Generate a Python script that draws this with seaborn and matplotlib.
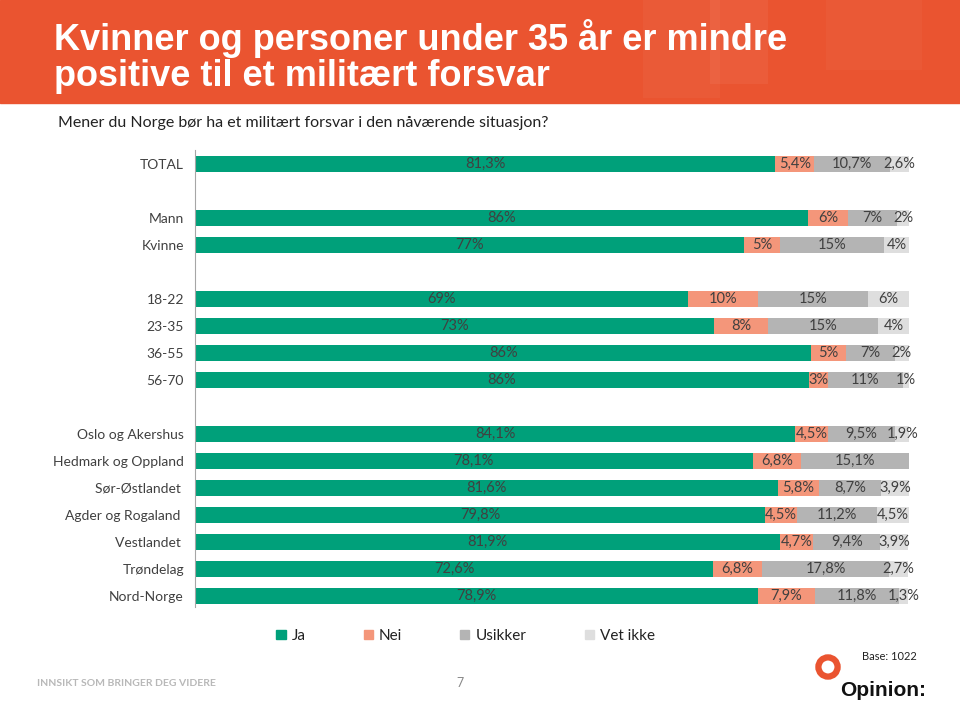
import matplotlib
matplotlib.use("Agg")
import matplotlib.pyplot as plt
from matplotlib.patches import Rectangle, Patch, Circle
import pandas as pd
import seaborn as sns

# data (percent)
groups = ["TOTAL", "", "Mann", "Kvinne", "", "18-22", "23-35", "36-55", "56-70", "",
          "Oslo og Akershus", "Hedmark og Oppland", "Sør-Østlandet ", "Agder og Rogaland ",
          "Vestlandet ", "Trøndelag", "Nord-Norge"]
ja = [81.3, None, 85.9, 76.9, None, 69.0, 72.7, 86.3, 86.0, None,
      84.1, 78.1, 81.6, 79.8, 81.9, 72.6, 78.9]
nei = [5.4, None, 5.6, 5.0, None, 9.9, 7.6, 4.9, 2.6, None,
       4.5, 6.8, 5.8, 4.5, 4.7, 6.8, 7.9]
usikker = [10.7, None, 6.8, 14.6, None, 15.4, 15.4, 6.8, 10.6, None,
           9.5, 15.1, 8.7, 11.2, 9.4, 17.8, 11.8]
vet_ikke = [2.6, None, 1.7, 3.5, None, 5.7, 4.3, 2.0, 0.8, None,
            1.9, 0.0, 3.9, 4.5, 3.9, 2.7, 1.3]
decimals = [1, None, 0, 0, None, 0, 0, 0, 0, None, 1, 1, 1, 1, 1, 1, 1]

series = ["Ja", "Nei", "Usikker", "Vet ikke"]
colors = ["#00A07A", "#F4967A", "#B4B4B4", "#DEDEDE"]
txt_col = "#404040"
orange = "#EA5430"

# unique keys so the blank spacer rows stay separate categories
keys = [g if g else " " * (i + 1) for i, g in enumerate(groups)]
df = pd.DataFrame({"key": keys, "Ja": ja, "Nei": nei, "Usikker": usikker, "Vet ikke": vet_ikke})
df = df.dropna().reset_index(drop=True)
df["c1"] = df["Ja"]
df["c2"] = df["c1"] + df["Nei"]
df["c3"] = df["c2"] + df["Usikker"]
df["c4"] = df["c3"] + df["Vet ikke"]

body = ["Lato", "DejaVu Sans"]
plt.rcParams["font.family"] = body
head = ["Liberation Sans", "DejaVu Sans"]

fig = plt.figure(figsize=(9.6, 7.02), dpi=100)

# header band
fig.patches.append(Rectangle((0, 1 - 103 / 702), 1, 103 / 702, transform=fig.transFigure,
                             color=orange, zorder=0))
for x0, y0, w, h, a in [(0.67, 0.86, 0.08, 0.14, 0.035), (0.74, 0.88, 0.06, 0.12, 0.05),
                        (0.86, 0.9, 0.1, 0.1, 0.03)]:
    fig.patches.append(Rectangle((x0, y0), w, h, transform=fig.transFigure,
                                 color="white", alpha=a, zorder=0, lw=0))
fig.text(54 / 960, 1 - 38 / 702, "Kvinner og personer under 35 år er mindre",
         color="white", fontsize=26, fontweight="bold", family=head, va="center")
fig.text(54 / 960, 1 - 76 / 702, "positive til et militært forsvar",
         color="white", fontsize=26, fontweight="bold", family=head, va="center")
fig.text(58 / 960, 1 - 123 / 702, "Mener du Norge bør ha et militært forsvar i den nåværende situasjon?",
         fontsize=11.5, color="#222222", va="center")

ax = fig.add_axes([195 / 960, 1 - 607 / 702, 714 / 960, 457 / 702])
for col, c in zip(["c4", "c3", "c2", "c1"], colors[::-1]):
    sns.barplot(data=df, x=col, y="key", order=keys, color=c, saturation=1,
                width=0.6, errorbar=None, orient="h", ax=ax)

ax.set_xlim(0, 100)
ax.set_ylim(len(keys) - 1 + 0.41, -0.52)
ax.set_xlabel("")
ax.set_ylabel("")
ax.set_xticks([])
ax.set_yticks(range(len(keys)))
ax.set_yticklabels(groups, fontsize=10, color=txt_col)
ax.tick_params(axis="y", length=0, pad=8)
for s in ["top", "right", "bottom"]:
    ax.spines[s].set_visible(False)
ax.spines["left"].set_color("#A6A6A6")

# segment labels
for i, k in enumerate(keys):
    row = df[df["key"] == k]
    if row.empty:
        continue
    row = row.iloc[0]
    d = decimals[i]
    start = 0
    for s in series:
        v = row[s]
        if v > 0:
            lab = f"{v:.{d}f}".replace(".", ",") + "%"
            ax.text(start + v / 2, i, lab, ha="center", va="center", fontsize=10.5, color=txt_col)
        start += v

handles = [Patch(color=c, label=s) for s, c in zip(series, colors)]
fig.legend(handles=handles, loc="center", bbox_to_anchor=(0.485, 1 - 636 / 702), ncol=4,
           frameon=False, fontsize=11, handlelength=0.6, handleheight=0.6,
           handletextpad=0.4, columnspacing=3.8, labelcolor="#222222")

# footer
fig.text(37 / 960, 1 - 683 / 702, "INNSIKT SOM BRINGER DEG VIDERE", fontsize=7.5,
         fontweight="bold", color="#B8B8B8", va="center")
fig.text(456 / 960, 1 - 683 / 702, "7", fontsize=9, color="#888888", va="center")
fig.text(862 / 960, 1 - 657 / 702, "Base: 1022", fontsize=8, color="#222222", va="center")
logo = fig.add_axes([812 / 960, 1 - 683 / 702, 32 / 960, 32 / 702])
logo.set_xlim(-1, 1)
logo.set_ylim(-1, 1)
logo.set_aspect("equal")
logo.axis("off")
logo.add_patch(Circle((0, 0), 0.6, facecolor="none", edgecolor=orange, lw=4.5))
fig.text(840 / 960, 1 - 690 / 702, "Opinion:", fontsize=15, fontweight="bold",
         family=head, color="#111111", va="center")

fig.savefig("out.png", dpi=100)
